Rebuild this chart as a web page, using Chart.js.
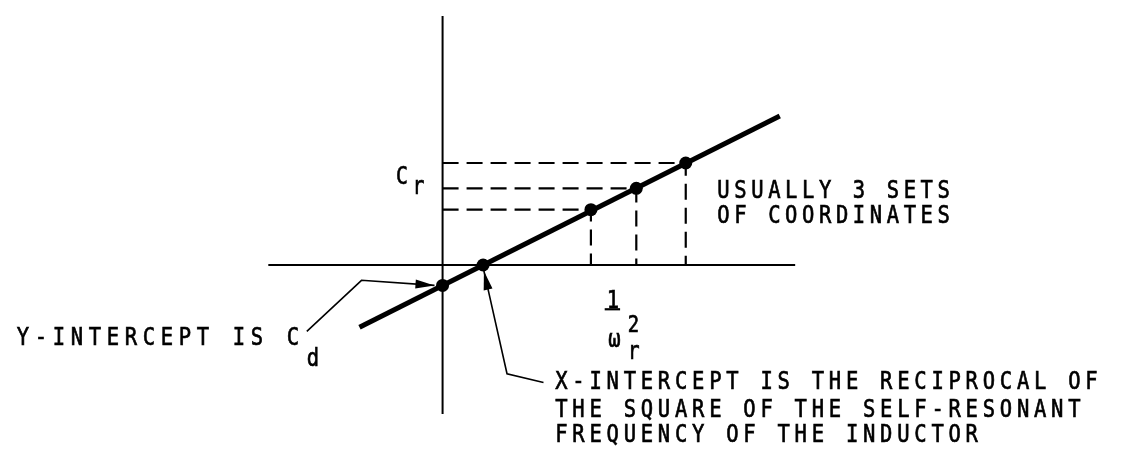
<!DOCTYPE html>
<html>
<head>
<meta charset="utf-8">
<title>Self-resonance of an inductor</title>
<script src="https://cdn.jsdelivr.net/npm/chart.js@4.4.1/dist/chart.umd.min.js"></script>
<style>
  html, body { margin: 0; padding: 0; background: #fff; }
  #wrap { width: 1134px; height: 459px; }
</style>
</head>
<body>
<div id="wrap"><canvas id="plot" width="1134" height="459"></canvas></div>
<script>
const pointNames = ['Y-intercept (Cd)', 'X-intercept', 'Set 1', 'Set 2', 'Set 3'];
const invOmegaSq = [0, 1.0, 3.66, 4.78, 6.0];
const capValues = [-1.0, 0, 2.71, 3.76, 5.0];
// the three measured coordinate sets (they get dashed guides)
const setIndex = [2, 3, 4];

// straight line drawn through the points
const fitX = [-2.05, 8.32];
const fitY = [-3.05, 7.3];

// extent of the drawn axes
const axisXRange = [-4.3, 8.7];
const axisYRange = [-7.3, 12.2];

// visible window of the page
const xRange = [-10.76, 16.9];
const yRange = [-9.19, 12.67];

document.addEventListener("DOMContentLoaded", () => {
    const ctx = document.getElementById('plot').getContext('2d');

    // Text annotations, anchored in data units
    const notes = [
        { text: 'C', x: -1.15, y: 3.95, size: 24 },
        { text: 'r', x: -0.74, y: 3.48, size: 24 },
        { text: 'USUALLY 3 SETS', x: 6.78, y: 3.29 },
        { text: 'OF COORDINATES', x: 6.78, y: 2.05 },
        { text: 'Y-INTERCEPT IS C', x: -10.51, y: -3.9, spacing: 6.9 },
        { text: 'd', x: -3.35, y: -4.95 },
        { text: 'X-INTERCEPT IS THE RECIPROCAL OF', x: 2.78, y: -6.1, spacing: 5.8 },
        { text: 'THE SQUARE OF THE SELF-RESONANT', x: 2.78, y: -7.43, spacing: 5.8 },
        { text: 'FREQUENCY OF THE INDUCTOR', x: 2.78, y: -8.67, spacing: 5.8 },
        { text: '1', x: 4.2, y: -2.1, size: 25, align: 'center' },
        { text: 'ω', x: 4.24, y: -4.0, size: 25, align: 'center' },
        { text: '2', x: 4.57, y: -3.29, size: 23 },
        { text: 'r', x: 4.57, y: -4.62, size: 24 }
    ];

    // Leader lines, last vertex gets the arrow head
    const leaders = [
        [[-3.35, -3.25], [-2.0, -0.75], [-0.2, -1.0]],
        [[2.49, -5.76], [1.59, -5.33], [1.02, -0.29]]
    ];

    // Fraction bar under the "1"
    const fracBar = [[4.0, -2.17], [4.38, -2.17]];

    const sketchPlugin = {
        id: 'sketch',
        afterDatasetsDraw(chart) {
            const c = chart.ctx;
            const xs = chart.scales.x;
            const ys = chart.scales.y;
            const px = v => xs.getPixelForValue(v);
            const py = v => ys.getPixelForValue(v);

            c.save();
            c.strokeStyle = '#000';
            c.fillStyle = '#000';
            c.lineWidth = 1.6;

            leaders.forEach(path => {
                c.beginPath();
                path.forEach(([a, b], i) => i ? c.lineTo(px(a), py(b)) : c.moveTo(px(a), py(b)));
                c.stroke();

                // filled arrow head pointing along the last segment
                const [a0, b0] = path[path.length - 2];
                const [a1, b1] = path[path.length - 1];
                const x0 = px(a0), y0 = py(b0), x1 = px(a1), y1 = py(b1);
                const ang = Math.atan2(y1 - y0, x1 - x0);
                const len = 19, half = 4.5;
                c.beginPath();
                c.moveTo(x1, y1);
                c.lineTo(x1 - len * Math.cos(ang) + half * Math.sin(ang), y1 - len * Math.sin(ang) - half * Math.cos(ang));
                c.lineTo(x1 - len * Math.cos(ang) - half * Math.sin(ang), y1 - len * Math.sin(ang) + half * Math.cos(ang));
                c.closePath();
                c.fill();
            });

            c.lineWidth = 2.2;
            c.beginPath();
            c.moveTo(px(fracBar[0][0]), py(fracBar[0][1]));
            c.lineTo(px(fracBar[1][0]), py(fracBar[1][1]));
            c.stroke();

            // lettering: narrow glyphs, wide spacing, like the stencil text of the original
            const squeeze = 0.82;
            c.textBaseline = 'alphabetic';
            c.lineWidth = 0.7;
            notes.forEach(n => {
                c.save();
                c.translate(px(n.x), py(n.y));
                c.scale(squeeze, 1);
                c.font = (n.size || 25) + 'px "DejaVu Sans Mono", monospace';
                c.letterSpacing = (n.text.length > 1 ? (n.spacing || 5.6) : 0) + 'px';
                c.textAlign = n.align || 'left';
                c.fillText(n.text, 0, 0);
                c.strokeText(n.text, 0, 0);
                c.restore();
            });
            c.restore();
        }
    };

    // Build the datasets from the arrays above
    const points = invOmegaSq.map((x, i) => ({ x: x, y: capValues[i] }));

    const guideSets = setIndex.map(i => ({
        label: pointNames[i] + ' guide',
        data: [
            { x: 0, y: capValues[i] },
            { x: invOmegaSq[i], y: capValues[i] },
            { x: invOmegaSq[i], y: 0 }
        ],
        showLine: true,
        borderColor: '#000',
        borderWidth: 2.2,
        borderDash: [16, 8],
        pointRadius: 0,
        order: 3
    }));

    new Chart(ctx, {
        type: 'scatter',
        data: {
            datasets: [
                {
                    label: 'Measurements',
                    data: points,
                    pointRadius: 6.5,
                    pointBackgroundColor: '#000',
                    pointBorderColor: '#000',
                    pointBorderWidth: 0,
                    order: 0
                },
                {
                    label: 'Fit',
                    data: fitX.map((x, i) => ({ x: x, y: fitY[i] })),
                    showLine: true,
                    borderColor: '#000',
                    borderWidth: 5,
                    borderCapStyle: 'butt',
                    pointRadius: 0,
                    order: 1
                },
                {
                    label: 'X axis',
                    data: axisXRange.map(x => ({ x: x, y: 0 })),
                    showLine: true,
                    borderColor: '#000',
                    borderWidth: 2,
                    pointRadius: 0,
                    order: 2
                },
                {
                    label: 'Y axis',
                    data: axisYRange.map(y => ({ x: 0, y: y })),
                    showLine: true,
                    borderColor: '#000',
                    borderWidth: 2,
                    pointRadius: 0,
                    order: 2
                },
                ...guideSets
            ]
        },
        options: {
            responsive: false,
            animation: false,
            layout: { padding: 0 },
            events: [],
            plugins: {
                legend: { display: false },
                tooltip: { enabled: false }
            },
            scales: {
                x: { type: 'linear', min: xRange[0], max: xRange[1], display: false },
                y: { type: 'linear', min: yRange[0], max: yRange[1], display: false }
            }
        },
        plugins: [sketchPlugin]
    });
});
</script>
</body>
</html>
